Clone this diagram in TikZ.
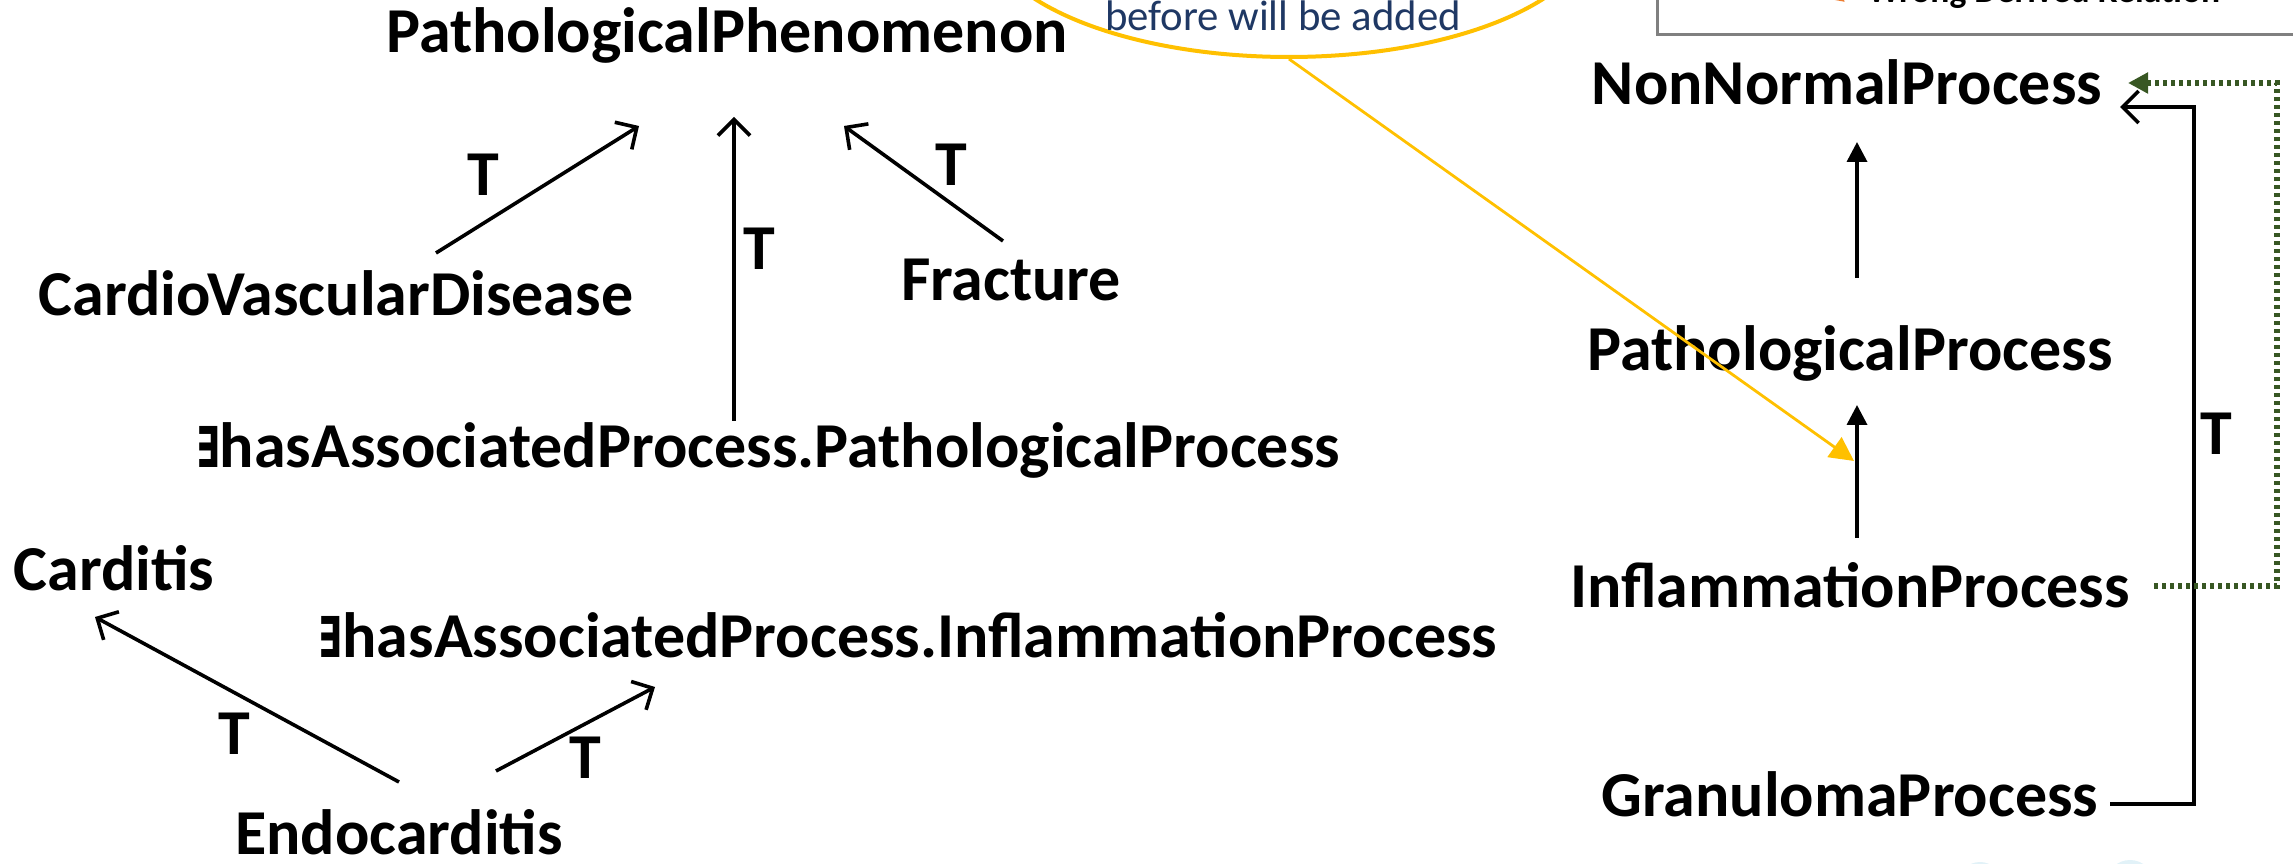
\documentclass[tikz,border=0pt]{standalone}
\usepackage{fontspec}
\setmainfont{Carlito}
\newfontfamily\exfont{DejaVu Sans}[Scale=0.88,FakeStretch=0.62]
\usetikzlibrary{arrows.meta,shapes.geometric}
\definecolor{noteyellow}{RGB}{255,192,0}
\definecolor{notetext}{RGB}{31,56,100}
\definecolor{derivgreen}{RGB}{56,87,35}
\definecolor{wrongorange}{RGB}{237,125,49}
\definecolor{paleblue}{RGB}{226,242,248}
\newcommand{\exsym}{{\exfont ∃}}

\begin{document}
\begin{tikzpicture}[x=0.25pt,y=-0.25pt,
  concept/.style={font=\bfseries\fontsize{16}{19}\selectfont, anchor=base, inner sep=0pt},
  tlabel/.style={font=\bfseries\fontsize{16}{19}\selectfont, inner sep=0pt},
  subopen/.style={draw=black, line width=0.9pt, -{Straight Barb[length=4pt,width=8pt]}},
  subfilled/.style={draw=black, line width=0.9pt, -{Triangle[length=5pt,width=5pt]}},
  derived/.style={draw=derivgreen, line width=1.4pt, dash pattern=on 1.1pt off 0.9pt, -{Triangle[length=5pt,width=5pt]}},
  notelink/.style={draw=noteyellow, line width=0.7pt, -{Triangle[length=6pt,width=6pt]}}]
\useasboundingbox (0,0) rectangle (2293,864);
\clip (0,0) rectangle (2293,864);

% callout ellipse and its text
\node[ellipse, draw=noteyellow, line width=1pt, minimum width=152.5pt, minimum height=65pt, inner sep=0pt] (note) at (1289,-73) {};
\node[font=\fontsize{10.7}{12}\selectfont, text=notetext, anchor=base, inner sep=0pt] (notetxt) at (1283,31) {before will be added};

% legend frame
\draw[gray, line width=0.75pt] (1657,-300) rectangle (2400,35);
\node[font=\bfseries\fontsize{8.9}{10}\selectfont, anchor=base, inner sep=0pt] (wrongtxt) at (2044,3) {Wrong Derived Relation};
\draw[wrongorange, line width=1pt, -{Triangle[length=4pt,width=4pt]}] ([shift={(-60,-32)}]wrongtxt.base west) -- ([shift={(-22,-1)}]wrongtxt.base west);

% concepts, left hierarchy
\node[concept] (pphen) at (727,53) {PathologicalPhenomenon};
\node[concept] (cvd) at (336,316) {CardioVascularDisease};
\node[concept] (fract) at (1011,301) {Fracture};
\node[concept] (expath) at (768,468) {\exsym hasAssociatedProcess.PathologicalProcess};
\node[concept] (carditis) at (114,591) {Carditis};
\node[concept] (exinfl) at (908,658) {\exsym hasAssociatedProcess.InflammationProcess};
\node[concept] (endo) at (399,855) {Endocarditis};

% concepts, right hierarchy
\node[concept] (nonnormal) at (1847,105) {NonNormalProcess};
\node[concept] (pproc) at (1850,371) {PathologicalProcess};
\node[concept] (inflam) at (1850,608) {InflammationProcess};
\node[concept] (granu) at (1850,817) {GranulomaProcess};

% left connectors
\draw[subopen] ([shift={(100,-63)}]cvd.base) -- ([shift={(-88,73)}]pphen.base);
\draw[subopen] ([shift={(-34,-47)}]expath.base) -- ([shift={(7,64)}]pphen.base);
\draw[subopen] ([shift={(-8,-60)}]fract.base) -- ([shift={(117,73)}]pphen.base);
\draw[subopen] ([shift={(0,-73)}]endo.base) -- ([shift={(-19,26)}]carditis.base);
\draw[subopen] ([shift={(97,-84)}]endo.base) -- ([shift={(-253,29)}]exinfl.base);

% right connectors
\draw[subfilled] ([shift={(7,-93)}]pproc.base) -- ([shift={(10,37)}]nonnormal.base);
\draw[subfilled] ([shift={(7,-70)}]inflam.base) -- ([shift={(7,34)}]pproc.base);
\draw[subopen] ([shift={(260,-13)}]granu.base) -- ++(84,0) |- ([shift={(273,2)}]nonnormal.base);
\draw[derived] ([shift={(304,-22)}]inflam.base) -- ++(123,0) |- ([shift={(281,-22)}]nonnormal.base);

% callout pointer
\draw[notelink] (note.south) -- ([shift={(4,90)}]pproc.base);

% T labels
\node[tlabel] (t1) at (483,175) {T};
\node[tlabel] (t2) at (759,249) {T};
\node[tlabel] (t3) at (951,165) {T};
\node[tlabel] (t4) at (234,734) {T};
\node[tlabel] (t5) at (585,758) {T};
\node[tlabel] (t6) at (2216,434) {T};

% faint marks along the lower edge
\fill[paleblue] (1980,884) circle (22);
\fill[paleblue] (2130,884) circle (24);
\end{tikzpicture}
\end{document}
